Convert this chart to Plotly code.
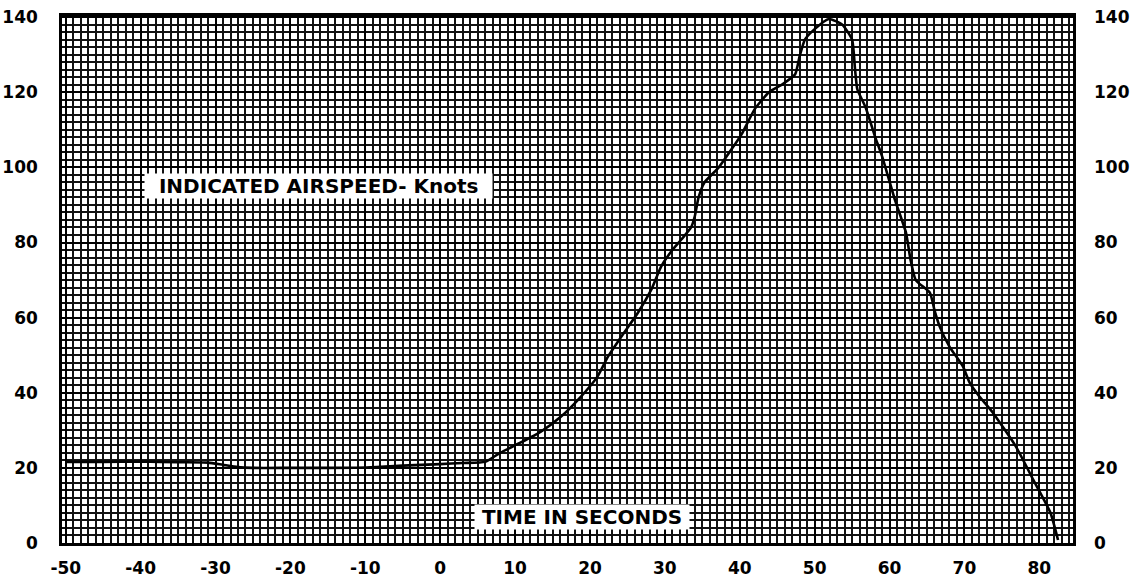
import plotly.graph_objects as go

# ---- data ----
time_s = [-50, -45, -40, -35, -31, -29, -27, -25, -20, -15, -10, -5, 0, 3, 6,
          8, 10.7, 13.4, 16.1, 18.8, 21, 22.4, 24.2, 26.4, 28.2, 29.5, 31,
          32.2, 33.5, 34, 34.5, 35.3, 37.2, 38.9, 40.3, 42, 43.9, 45.6, 47.4, 48,
          48.7, 50, 51.9, 53.7, 55, 55.4, 55.7, 56.8, 58.1, 59,
          60.7, 62.2, 62.8, 63.5, 65.4, 66, 66.7, 68, 69.8, 70.7, 72, 73.8, 76.9,
          79.2, 81.5, 82.5]
airspeed_kt = [21.6, 21.6, 21.7, 21.5, 21.4, 20.8, 20.2, 20.0, 20.0, 20.0, 20.1, 20.6, 21.0, 21.3, 21.6,
               24, 26.7, 29.6, 33.6, 39, 44.3, 49.6, 55, 61.3, 67.5, 73.6, 78,
               80.8, 84, 87, 92, 96, 100, 104.8, 109, 115.5, 120, 122, 124.8, 129.6,
               134, 136.8, 139.5, 138, 134, 126, 120.8, 116, 108, 103,
               91.5, 82.6, 75.5, 70, 66.6, 62, 57.6, 52.3, 47, 42.7, 39, 34.7, 25.6,
               16.8, 8, 0.8]

x_ticks = list(range(-50, 81, 10))
x_tick_text = [str(v) for v in x_ticks]
y_ticks = list(range(0, 141, 20))
y_tick_text = [str(v) for v in y_ticks]

y_label = "INDICATED AIRSPEED- Knots"
x_label = "TIME IN SECONDS"

X_RANGE = [-50.5, 84.5]
Y_RANGE = [0, 140.3]

tick_font = dict(family="DejaVu Sans, sans-serif", size=17, color="black", weight=700)
label_font = dict(family="DejaVu Sans, sans-serif", size=20, color="black", weight=700)

fig = go.Figure()
fig.add_trace(go.Scatter(
    x=time_s, y=airspeed_kt, mode="lines",
    line=dict(color="black", width=2.6, shape="spline", smoothing=0.5),
    showlegend=False, hoverinfo="skip",
))
# invisible trace for right-hand axis
fig.add_trace(go.Scatter(x=[time_s[0]], y=[airspeed_kt[0]], yaxis="y2",
                         mode="markers", marker=dict(opacity=0),
                         showlegend=False, hoverinfo="skip"))

fig.update_layout(
    width=1138, height=579,
    margin=dict(l=62, r=65, t=16, b=36, autoexpand=False),
    paper_bgcolor="white", plot_bgcolor="white",
    xaxis=dict(
        range=X_RANGE, tickvals=x_ticks, ticktext=x_tick_text, automargin=False,
        showgrid=True, gridcolor="black", gridwidth=2,
        minor=dict(dtick=1, tick0=0, showgrid=True, gridcolor="#111", gridwidth=1.8),
        showline=True, linecolor="black", linewidth=2.5, mirror=True,
        ticks="", tickfont=tick_font, zeroline=False, ticklabelstandoff=8,
        ticklabeloverflow="allow",
    ),
    yaxis=dict(
        range=Y_RANGE, tickvals=y_ticks, ticktext=y_tick_text, automargin=False,
        showgrid=True, gridcolor="black", gridwidth=2,
        minor=dict(dtick=2, tick0=0, showgrid=True, gridcolor="#111", gridwidth=1.8),
        showline=True, linecolor="black", linewidth=2.5, mirror=True,
        ticks="", tickfont=tick_font, zeroline=False, ticklabelstandoff=18,
        ticklabeloverflow="allow",
    ),
    yaxis2=dict(
        range=Y_RANGE, tickvals=y_ticks, ticktext=y_tick_text, automargin=False,
        overlaying="y", side="right", showgrid=False, zeroline=False,
        ticks="", tickfont=tick_font, ticklabelstandoff=20,
        ticklabeloverflow="allow",
    ),
    annotations=[
        dict(x=-16.2, y=95.1, xref="x", yref="y",
             text="\u00a0\u00a0" + y_label + "\u00a0\u00a0", showarrow=False,
             font=label_font, bgcolor="white", borderpad=0),
        dict(x=19.0, y=6.9, xref="x", yref="y",
             text="\u00a0" + x_label + "\u00a0", showarrow=False,
             font=label_font, bgcolor="white", borderpad=0),
    ],
)

fig.write_html("out.html",
               config={"displayModeBar": False},
               post_script="document.body.style.margin='0';document.body.style.overflow='hidden';")
